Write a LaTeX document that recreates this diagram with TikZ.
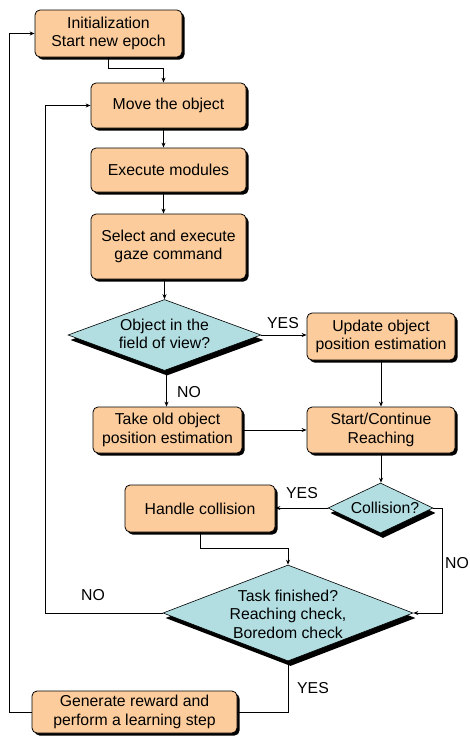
\documentclass[tikz,border=0pt]{standalone}
\usepackage{fontspec}
\setmainfont{Liberation Sans}
\usetikzlibrary{shapes.geometric,shadows,arrows.meta}
\definecolor{peach}{RGB}{252,204,156}
\definecolor{cyanfill}{RGB}{178,222,226}
\begin{document}
\begin{tikzpicture}[x=1pt,y=-1pt,
  every node/.style={font=\fontsize{15.8}{18.5}\selectfont},
  box/.style={draw=black, line width=0.8pt, fill=peach, rounded corners=5pt, align=center, inner sep=0pt,
    drop shadow={shadow xshift=2.5pt, shadow yshift=-2.5pt, fill=black, opacity=1}},
  dia/.style={shape=diamond, draw=black, line width=0.6pt, fill=cyanfill, inner sep=0pt,
    drop shadow={shadow xshift=2.5pt, shadow yshift=-5pt, fill=black, opacity=1}},
  lbl/.style={align=center, inner sep=0pt},
  arr/.style={draw=black, line width=0.8pt, -{Stealth[length=5pt,width=4pt]}},
  ln/.style={draw=black, line width=0.8pt}]
\useasboundingbox (0,0) rectangle (469,736);

\node[box, minimum width=147pt, minimum height=47pt] (init) at (108.5,33.5) {Initialization\\Start new epoch};
\node[box, minimum width=155pt, minimum height=45pt] (move) at (168.5,105.5) {Move the object};
\node[box, minimum width=155pt, minimum height=44pt] (exec) at (168.5,170) {Execute modules};
\node[box, minimum width=155pt, minimum height=65pt] (sel) at (168.5,246.5) {Select and execute\\gaze command};
\node[dia, minimum width=193pt, minimum height=71pt] (d1) at (164.5,335) {};
\node[lbl] (d1t) at (164.5,334) {Object in the\\field of view?};
\node[box, minimum width=148pt, minimum height=47pt] (upd) at (381,336.5) {Update object\\position estimation};
\node[box, minimum width=149pt, minimum height=46pt] (take) at (167.5,430) {Take old object\\position estimation};
\node[box, minimum width=148pt, minimum height=46pt] (start) at (381,430) {Start/Continue\\Reaching};
\node[dia, minimum width=105pt, minimum height=50pt] (coll) at (380.5,508) {};
\node[lbl] (collt) at (385,508) {Collision?};
\node[box, minimum width=150pt, minimum height=47pt] (hand) at (200,508.5) {Handle collision};
\node[dia, minimum width=250pt, minimum height=96pt] (task) at (288,613) {};
\node[lbl] (taskt) at (288,614) {Task finished?\\Reaching check,\\Boredom check};
\node[box, minimum width=205pt, minimum height=42pt] (gen) at (134.5,712) {Generate reward and\\perform a learning step};

\draw[arr] (init.south) -- ++(0,11) -| ([xshift=-5pt]move.north);
\draw[arr] ([xshift=-5pt]move.south) -- ([xshift=-5pt]exec.north);
\draw[arr] ([xshift=-5pt]exec.south) -- ([xshift=-5pt]sel.north);
\draw[arr] ([xshift=-5pt]sel.south) -- (sel.south -| d1.north) -- (d1.north);
\draw[arr] (d1.east) -- (d1.east -| upd.west);
\draw[arr] ([xshift=2pt]d1.south) -- ([xshift=2pt]d1.south |- take.north);
\draw[arr] (upd.south) -- (start.north);
\draw[arr] (take.east) -- (start.west);
\draw[arr] (start.south) -- (start.south |- coll.north);
\draw[arr] (coll.west) -- (coll.west -| hand.east);
\draw[arr] (hand.south) -- ++(0,16) -| (task.north);
\draw[arr] (coll.east) -- ++(9,0) |- (task.east);
\draw[arr] (task.west) -- ++(-117,0) |- (move.west);
\draw[ln] (task.south) |- (gen.east);
\draw[arr] (gen.west) -- ++(-22,0) |- (init.west);

\node[lbl] (yes1) at (283,323) {YES};
\node[lbl] (no1) at (189,392) {NO};
\node[lbl] (yes2) at (302,493) {YES};
\node[lbl] (no2) at (457,563) {NO};
\node[lbl] (no3) at (93,595) {NO};
\node[lbl] (yes3) at (313,688) {YES};
\end{tikzpicture}
\end{document}
